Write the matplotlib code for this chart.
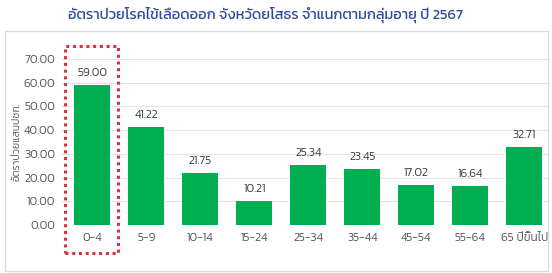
import matplotlib
matplotlib.use("Agg")
import matplotlib.pyplot as plt
from matplotlib.patches import Rectangle
import matplotlib.transforms as mtransforms

plt.rcParams['font.family'] = ['Kanit', 'DejaVu Sans']

# data
age_groups = ['0-4', '5-9', '10-14', '15-24', '25-34', '35-44', '45-54', '55-64', '65 ปีขึ้นไป']
rates = [59.00, 41.22, 21.75, 10.21, 25.34, 23.45, 17.02, 16.64, 32.71]
title = 'อัตราป่วยโรคไข้เลือดออก จังหวัดยโสธร จำแนกตามกลุ่มอายุ ปี 2567'
ylabel = 'อัตราป่วยแสนปชก.'

W, H = 552, 273
fig = plt.figure(figsize=(W / 100, H / 100), dpi=100)
ax = fig.add_axes([62 / W, (H - 225) / H, (548 - 62) / W, (225 - 59) / H])

# outer frame
fig.patches.append(Rectangle((5 / W, (H - 271) / H), (548 - 5) / W, (271 - 31) / H,
                             transform=fig.transFigure, fill=False,
                             edgecolor='#dcdcdc', linewidth=1))

x = list(range(len(age_groups)))
bars = ax.bar(x, rates, width=0.667, color='#00b050', zorder=3)
for xi, v in zip(x, rates):
    ax.annotate('%.2f' % v, (xi, v), xytext=(0, 5), textcoords='offset points',
                ha='center', va='bottom', fontsize=8.5, color='#404040', weight=350)

ax.set_ylim(0, 70)
ax.set_xlim(-0.56, 8.44)
ax.set_yticks(range(0, 71, 10))
ax.set_yticklabels(['%.2f' % t for t in range(0, 71, 10)])
ax.set_xticks(x)
ax.set_xticklabels(age_groups)
for lab in ax.get_xticklabels() + ax.get_yticklabels():
    lab.set_fontweight(350)
ax.tick_params(length=0, labelsize=8.5, labelcolor='#595959')
ax.tick_params(axis='y', pad=5)
ax.tick_params(axis='x', pad=6)
ax.grid(axis='y', color='#e4e4e4', linewidth=0.8, zorder=0)
for s in ax.spines.values():
    s.set_visible(False)
ax.set_ylabel(ylabel, fontsize=7.5, color='#595959', weight=350)
ax.yaxis.set_label_coords(-0.084, 0.5)

# highlight box around first group
trans = mtransforms.blended_transform_factory(ax.transData, ax.transAxes)
ax.add_patch(Rectangle((-0.5, -0.169), 0.98, 1.078 + 0.169, transform=trans,
                       fill=False, edgecolor='#d9313f', linewidth=2.2,
                       linestyle=(0, (1, 1.2)), clip_on=False, zorder=5))

fig.text(266 / W, 1 - 15 / H, title, ha='center', va='center',
         fontsize=10.5, color='#2e4a9e')

fig.savefig('out.png', dpi=100)
